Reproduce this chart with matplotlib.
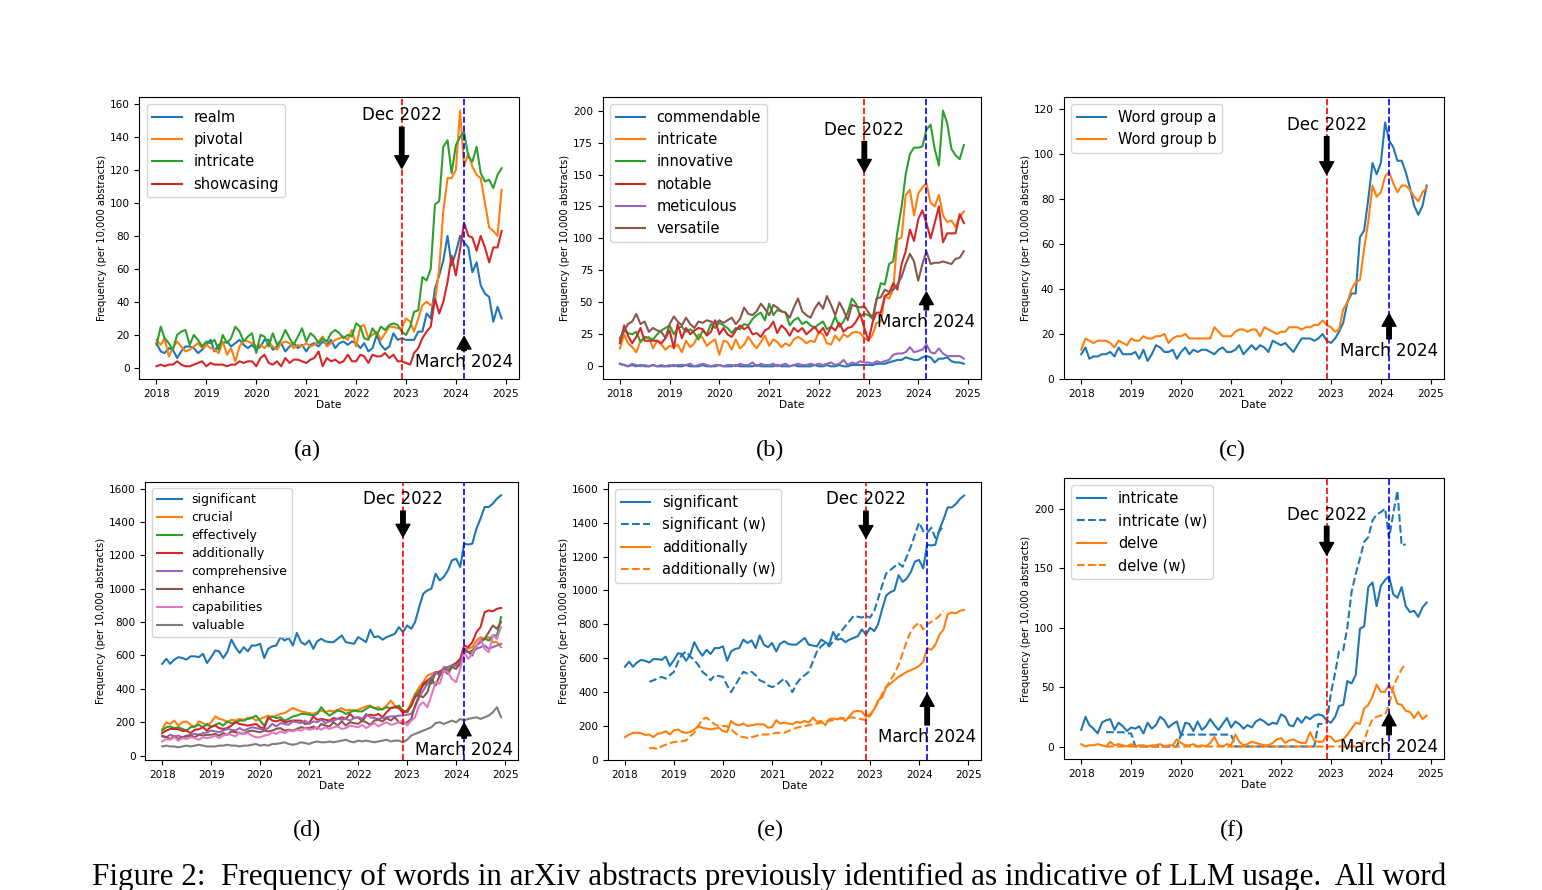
import numpy as np
import matplotlib
matplotlib.use('Agg')
import matplotlib.pyplot as plt
import matplotlib.dates as mdates

# monthly values, Jan 2018 .. Dec 2024 (per 10,000 abstracts)
months = np.arange('2018-01', '2025-01', dtype='datetime64[M]')
months_w = months[6:79]   # (w) series only run Jul 2018 .. Jul 2024

# (a)
realm = [
    15, 10, 9, 12, 11, 6, 10, 13, 13, 12, 9, 11,
    14, 17, 10, 14, 15, 16, 13, 15, 17, 14, 12, 14,
    11, 13, 17, 17, 11, 13, 15, 10, 13, 15, 12, 14,
    10, 14, 15, 13, 16, 14, 17, 12, 15, 16, 14, 16,
    15, 12, 15, 10, 12, 20, 14, 11, 13, 21, 17, 18,
    17, 17, 17, 22, 22, 33, 30, 48, 56, 65, 80, 62,
    70, 80, 76, 73, 58, 64, 50, 45, 43, 28, 37, 30,
]
pivotal = [
    17, 14, 18, 7, 12, 16, 13, 10, 11, 13, 15, 12,
    14, 12, 11, 9, 16, 8, 12, 4, 13, 17, 16, 15,
    13, 14, 12, 15, 13, 11, 15, 16, 15, 12, 14, 13,
    15, 13, 14, 16, 19, 13, 15, 17, 18, 19, 17, 23,
    13, 25, 26, 18, 20, 22, 17, 21, 25, 25, 24, 24,
    30, 28, 22, 30, 38, 40, 38, 40, 60, 95, 115, 115,
    120, 156, 122, 130, 122, 117, 115, 100, 85, 83, 80, 108,
]
intricate = [
    14, 25, 18, 15, 11, 20, 22, 23, 14, 20, 17, 13,
    16, 15, 17, 11, 20, 15, 18, 25, 22, 16, 19, 21,
    9, 20, 19, 13, 21, 14, 17, 23, 18, 14, 19, 24,
    16, 21, 19, 15, 18, 16, 21, 23, 21, 18, 20, 19,
    27, 25, 18, 17, 24, 20, 25, 23, 26, 27, 26, 22,
    20, 25, 34, 35, 55, 53, 60, 99, 101, 134, 138, 118,
    135, 140, 143, 128, 125, 134, 118, 113, 114, 109, 117, 121,
]
showcasing = [
    1, 2, 1, 2, 2, 4, 2, 1, 1, 2, 3, 4,
    1, 3, 2, 2, 2, 1, 2, 2, 4, 3, 4, 4,
    1, 6, 8, 3, 2, 4, 1, 6, 3, 5, 5, 4,
    3, 5, 6, 10, 1, 6, 4, 5, 3, 4, 8, 4,
    4, 8, 7, 3, 8, 7, 7, 9, 6, 8, 4, 4,
    3, 2, 9, 12, 18, 22, 25, 42, 33, 40, 52, 68,
    56, 72, 88, 80, 79, 71, 80, 73, 64, 73, 73, 83,
]

# (b)
commendable = [
    2, 1, 0, 1, 0, 1, 0, 0, 1, 0, 0, 0,
    0, 1, 0, 0, 1, 0, 0, 0, 1, 0, 0, 0,
    1, 0, 0, 0, 1, 0, 0, 0, 0, 1, 0, 0,
    0, 0, 1, 0, 0, 0, 1, 0, 0, 0, 0, 1,
    0, 0, 1, 0, 0, 1, 0, 0, 1, 1, 1, 1,
    1, 1, 2, 2, 2, 3, 4, 5, 5, 7, 6, 5,
    5, 7, 8, 7, 3, 6, 6, 7, 4, 3, 3, 2,
]
innovative = [
    20, 28, 26, 25, 27, 19, 23, 22, 21, 25, 28, 30,
    32, 25, 30, 31, 27, 29, 26, 21, 28, 25, 33, 30,
    34, 32, 30, 26, 30, 29, 33, 32, 37, 40, 42, 36,
    49, 40, 44, 43, 42, 32, 36, 38, 33, 35, 32, 30,
    33, 35, 29, 31, 39, 31, 35, 42, 53, 49, 39, 41,
    40, 37, 52, 65, 64, 80, 82, 105, 125, 150, 166, 171,
    171, 172, 185, 189, 170, 157, 200, 190, 170, 165, 162, 173,
]
notable = [
    18, 32, 24, 18, 23, 30, 20, 20, 20, 20, 18, 22,
    28, 14, 33, 22, 30, 25, 28, 30, 29, 24, 27, 36,
    25, 30, 25, 23, 28, 32, 29, 31, 25, 26, 23, 28,
    30, 35, 26, 32, 29, 24, 30, 27, 30, 25, 28, 31,
    26, 30, 24, 31, 28, 34, 27, 30, 31, 35, 41, 30,
    20, 35, 42, 42, 55, 57, 65, 60, 80, 90, 107, 98,
    115, 122, 112, 100, 112, 125, 97, 104, 104, 104, 119, 112,
]
meticulous = [
    2, 1, 0, 2, 1, 0, 1, 0, 1, 0, 1, 0,
    1, 0, 1, 1, 1, 2, 0, 1, 2, 1, 0, 1,
    1, 0, 1, 1, 0, 2, 1, 1, 3, 0, 2, 1,
    1, 2, 0, 1, 2, 0, 1, 2, 1, 1, 2, 1,
    2, 1, 2, 3, 1, 2, 5, 1, 3, 2, 4, 3,
    3, 2, 4, 3, 4, 5, 9, 10, 10, 11, 15, 11,
    12, 13, 17, 11, 10, 14, 10, 8, 8, 8, 8, 6,
]
versatile = [
    22, 28, 33, 35, 41, 33, 35, 27, 30, 28, 27, 22,
    33, 39, 35, 32, 38, 33, 30, 35, 34, 36, 35, 33,
    36, 34, 36, 38, 33, 37, 46, 41, 40, 43, 49, 45,
    40, 48, 46, 43, 42, 38, 46, 53, 43, 40, 38, 45,
    50, 45, 55, 48, 40, 50, 44, 36, 48, 47, 46, 47,
    42, 38, 53, 54, 60, 58, 60, 64, 70, 80, 88, 82,
    67, 80, 90, 80, 81, 81, 82, 81, 80, 84, 85, 90,
]

# (c)
group_a = [
    11, 14, 9, 10, 10, 11, 11, 12, 10, 14, 11, 11,
    11, 12, 9, 13, 8, 11, 15, 14, 12, 12, 13, 9,
    12, 14, 11, 13, 12, 13, 13, 12, 11, 13, 14, 12,
    12, 13, 15, 11, 13, 15, 13, 15, 14, 12, 17, 16,
    15, 16, 14, 12, 15, 18, 18, 18, 17, 18, 20, 17,
    16, 18, 21, 25, 34, 38, 38, 63, 66, 80, 96, 91,
    96, 114, 106, 103, 97, 97, 92, 85, 77, 73, 77, 86,
]
group_b = [
    13, 18, 17, 16, 17, 17, 17, 16, 14, 17, 16, 15,
    18, 17, 17, 19, 18, 18, 19, 19, 20, 16, 18, 19,
    19, 20, 18, 18, 18, 18, 18, 18, 23, 21, 19, 19,
    19, 21, 22, 22, 21, 22, 22, 19, 23, 22, 21, 20,
    21, 21, 23, 23, 23, 22, 23, 23, 24, 24, 26, 24,
    23, 21, 22, 31, 34, 40, 43, 44, 58, 70, 86, 81,
    83, 90, 92, 87, 83, 86, 86, 84, 81, 79, 83, 85,
]

# (d)
significant = [
    550, 580, 550, 575, 590, 585, 575, 595, 595, 590, 610, 555,
    590, 630, 625, 585, 620, 695, 650, 615, 650, 625, 660, 660,
    670, 585, 640, 655, 660, 710, 690, 705, 660, 735, 680, 665,
    690, 640, 685, 700, 685, 680, 680, 700, 720, 680, 675, 670,
    710, 695, 680, 755, 710, 715, 695, 710, 720, 730, 770, 740,
    780, 760, 800, 890, 970, 990, 1000, 1090, 1050, 1070, 1110, 1170,
    1180, 1130, 1270, 1265, 1270, 1360, 1420, 1490, 1490, 1510, 1540, 1560,
]
crucial = [
    160, 200, 190, 210, 180, 200, 205, 185, 170, 205, 195, 180,
    200, 235, 220, 215, 200, 215, 210, 220, 215, 225, 230, 210,
    220, 230, 240, 230, 240, 250, 255, 270, 285, 275, 265, 260,
    255, 250, 260, 270, 260, 270, 265, 275, 285, 270, 275, 270,
    275, 285, 295, 300, 285, 290, 275, 300, 330, 300, 290, 270,
    260, 320, 370, 410, 440, 480, 490, 500, 500, 520, 530, 540,
    540, 570, 640, 640, 650, 690, 710, 700, 710, 680, 680, 650,
]
effectively = [
    150, 170, 175, 165, 170, 160, 150, 170, 175, 185, 170, 190,
    170, 185, 195, 180, 205, 195, 200, 210, 210, 220, 225, 240,
    210, 180, 220, 235, 225, 230, 210, 220, 235, 240, 250, 250,
    245, 240, 250, 290, 260, 240, 255, 270, 265, 250, 260, 270,
    265, 265, 280, 295, 285, 275, 280, 290, 285, 290, 300, 270,
    260, 300, 360, 390, 420, 440, 430, 500, 490, 520, 510, 540,
    540, 560, 630, 620, 630, 660, 690, 700, 690, 720, 720, 830,
]
additionally = [
    135, 150, 160, 160, 158, 148, 150, 135, 155, 158, 170, 150,
    175, 180, 165, 160, 165, 180, 200, 190, 185, 180, 185, 190,
    170, 165, 230, 210, 205, 215, 200, 205, 210, 210, 210, 190,
    195, 235, 215, 220, 215, 210, 225, 220, 230, 220, 250, 225,
    230, 205, 240, 245, 240, 250, 230, 260, 285, 290, 285, 255,
    270, 300, 350, 370, 430, 450, 470, 490, 505, 520, 530, 540,
    555, 580, 660, 650, 680, 740, 770, 860, 870, 865, 880, 885,
]
comprehensive = [
    115, 110, 125, 115, 120, 110, 120, 125, 130, 125, 135, 140,
    150, 145, 140, 150, 160, 155, 150, 165, 150, 160, 170, 165,
    160, 155, 165, 190, 175, 195, 190, 185, 205, 200, 195, 210,
    190, 205, 200, 215, 195, 205, 210, 220, 215, 220, 210, 225,
    230, 220, 250, 230, 225, 220, 225, 230, 235, 235, 240, 240,
    245, 250, 290, 350, 390, 430, 470, 500, 480, 530, 530, 540,
    540, 550, 630, 620, 620, 640, 650, 660, 640, 650, 660, 670,
]
enhance = [
    120, 110, 100, 115, 100, 110, 115, 120, 110, 125, 120, 125,
    125, 130, 120, 135, 125, 145, 140, 135, 130, 145, 150, 145,
    140, 150, 145, 150, 160, 165, 150, 155, 150, 160, 170, 165,
    165, 175, 160, 190, 180, 175, 200, 180, 205, 180, 200, 195,
    190, 210, 200, 185, 210, 215, 205, 225, 210, 230, 200, 190,
    200, 220, 300, 360, 350, 380, 460, 420, 480, 510, 490, 530,
    520, 550, 640, 620, 600, 660, 680, 700, 740, 780, 760, 800,
]
capabilities = [
    85, 100, 95, 110, 90, 105, 100, 110, 105, 95, 110, 105,
    110, 120, 105, 120, 130, 125, 115, 140, 130, 135, 120, 110,
    110, 120, 125, 140, 130, 145, 135, 150, 145, 155, 150, 165,
    155, 160, 170, 155, 170, 160, 170, 175, 160, 165, 180, 175,
    170, 185, 165, 180, 195, 175, 190, 200, 185, 190, 200, 210,
    180, 210, 230, 300, 320, 290, 360, 440, 430, 510, 500, 460,
    440, 520, 620, 580, 610, 660, 700, 640, 620, 720, 700, 770,
]
valuable = [
    55, 60, 55, 55, 50, 55, 60, 55, 60, 65, 60, 55,
    55, 55, 60, 60, 65, 60, 60, 55, 60, 60, 65, 70,
    60, 65, 60, 70, 70, 75, 80, 70, 65, 70, 80, 75,
    70, 80, 85, 80, 80, 85, 80, 85, 90, 95, 85, 80,
    90, 85, 90, 85, 80, 85, 90, 95, 85, 90, 90, 80,
    95, 120, 130, 140, 150, 160, 170, 195, 200, 190, 200, 210,
    200, 220, 210, 220, 225, 230, 220, 230, 240, 260, 290, 230,
]

# (e) weighted versions, Jul 2018 .. Jul 2024
significant_w = [
    461, 470, 480, 490, 480, 500, 520, 580, 620, 640, 610, 590,
    560, 520, 500, 470, 500, 495, 490, 440, 400, 440, 480, 520,
    510, 520, 500, 470, 460, 440, 430, 440, 460, 480, 450, 400,
    450, 480, 500, 520, 580, 640, 670, 690, 670, 700, 730, 760, 790, 820,
    850, 845, 840, 850, 840, 880, 950, 1030, 1100, 1120, 1140, 1160,
    1140, 1200, 1260, 1330, 1400, 1350, 1340, 1370, 1310, 1350, 1380,
]
additionally_w = [
    70, 70, 65, 80, 90, 100, 105, 110, 110, 115, 140, 160,
    200, 240, 250, 230, 210, 200, 200, 200, 180, 160, 140, 135,
    130, 135, 140, 150, 150, 150, 155, 160, 160, 160, 170, 180,
    190, 195, 200, 205, 210, 215, 220, 225, 230, 235, 240, 245, 250, 250,
    250, 245, 240, 235, 260, 300, 340, 390, 430, 470, 510, 560,
    630, 700, 760, 790, 810, 770, 800, 815, 830, 850, 880,
]

# (f)
delve = [
    2, 0, 1, 1, 2, 1, 0, 4, 1, 2, 1, 0,
    2, 0, 1, 1, 0, 1, 1, 2, 0, 1, 1, 6,
    3, 1, 1, 2, 0, 1, 0, 3, 8, 1, 0, 2,
    1, 10, 4, 1, 2, 4, 3, 2, 1, 1, 3, 6,
    7, 3, 5, 6, 4, 3, 3, 12, 5, 4, 4, 9,
    8, 4, 5, 6, 10, 15, 20, 19, 32, 35, 42, 52,
    46, 46, 52, 46, 36, 35, 30, 29, 24, 29, 23, 26,
]
intricate_w = [
    12, 12, 12, 12, 12, 11, 11,
    0, 0, 0, 0, 0, 0, 0, 0, 0, 0, 0,
    10, 10, 10, 10, 10, 10, 10, 10, 10, 10, 10, 10, 10,
    0, 0, 0, 0, 0, 0, 0, 0, 0, 0, 0, 0, 0, 0, 0, 0, 0, 0, 0, 0,
    19, 19, 20,
    45, 62, 80, 81, 100, 130, 145, 158, 172, 176, 190, 195,
    197, 200, 175, 196, 215, 169, 170,
]
delve_w = [
    0, 0, 0, 0, 0, 0, 0, 0, 0, 0, 0, 0,
    0, 0, 0, 0, 0, 0, 0, 0, 0, 0, 0, 0,
    0, 0, 0, 0, 0, 0, 0, 0, 0, 0, 0, 0,
    0, 0, 0, 0, 0, 0, 0, 0, 0, 0, 0, 0,
    0, 0, 0, 0, 0, 0, 0, 0, 0, 0, 0, 0,
    0, 0,
    5, 15, 23, 25, 26, 27, 35, 50, 58, 65, 70,
]

dec_2022 = mdates.date2num(np.datetime64('2022-12-01'))
march_2024 = mdates.date2num(np.datetime64('2024-03-01'))

SERIF = ['Liberation Serif', 'DejaVu Serif']


def mark_events(ax, dec_text, dec_tip, mar_text, mar_tip):
    ax.axvline(dec_2022, color='red', linestyle='--', linewidth=1.2)
    ax.axvline(march_2024, color='blue', linestyle='--', linewidth=1.2)
    arrow = dict(facecolor='black', edgecolor='black', width=3.2, headwidth=10, headlength=9)
    ax.annotate('Dec 2022', xy=(dec_2022, dec_tip), xytext=(dec_2022, dec_text),
                ha='center', va='center', fontsize=12, arrowprops=arrow)
    ax.annotate('March 2024', xy=(march_2024, mar_tip), xytext=(march_2024, mar_text),
                ha='center', va='center', fontsize=12, arrowprops=arrow)


def style_axes(ax, ylim, yticks, legend_size=10.5, spacing=0.5):
    ax.set_ylim(*ylim)
    ax.set_yticks(yticks)
    ax.xaxis.set_major_locator(mdates.YearLocator())
    ax.xaxis.set_major_formatter(mdates.DateFormatter('%Y'))
    ax.tick_params(labelsize=7.6)
    ax.set_xlabel('Date', fontsize=7.6, labelpad=1)
    ax.set_ylabel('Frequency (per 10,000 abstracts)', fontsize=7.2, labelpad=2)
    ax.legend(loc='upper left', fontsize=legend_size, labelspacing=spacing)


fig = plt.figure(figsize=(15.42, 8.9), dpi=100)

# (a)
ax1 = fig.add_axes([0.0903, 0.5742, 0.2462, 0.3172])
ax1.plot(months, realm, label='realm')
ax1.plot(months, pivotal, label='pivotal')
ax1.plot(months, intricate, label='intricate')
ax1.plot(months, showcasing, label='showcasing')
style_axes(ax1, (-6.7, 164.4), range(0, 161, 20))
mark_events(ax1, 153, 121, 3.4, 19)

# (b)
ax2 = fig.add_axes([0.3909, 0.5742, 0.2453, 0.3172])
ax2.plot(months, commendable, label='commendable')
ax2.plot(months, intricate, label='intricate')
ax2.plot(months, innovative, label='innovative')
ax2.plot(months, notable, label='notable')
ax2.plot(months, meticulous, label='meticulous')
ax2.plot(months, versatile, label='versatile')
style_axes(ax2, (-9.9, 210.9), range(0, 201, 25))
mark_events(ax2, 185, 152, 35, 58)

# (c)
ax3 = fig.add_axes([0.690, 0.5742, 0.2464, 0.3172])
ax3.plot(months, group_a, label='Word group a')
ax3.plot(months, group_b, label='Word group b')
style_axes(ax3, (0, 125.5), range(0, 121, 20))
mark_events(ax3, 113, 91, 12.6, 29)

# (d)
ax4 = fig.add_axes([0.0942, 0.1461, 0.2417, 0.3124])
ax4.plot(months, significant, label='significant')
ax4.plot(months, crucial, label='crucial')
ax4.plot(months, effectively, label='effectively')
ax4.plot(months, additionally, label='additionally')
ax4.plot(months, comprehensive, label='comprehensive')
ax4.plot(months, enhance, label='enhance')
ax4.plot(months, capabilities, label='capabilities')
ax4.plot(months, valuable, label='valuable')
style_axes(ax4, (-26, 1640), range(0, 1601, 200), legend_size=9, spacing=0.4)
mark_events(ax4, 1536, 1311, 34, 194)

# (e)
ax5 = fig.add_axes([0.3943, 0.1461, 0.2419, 0.3124])
ax5.plot(months, significant, color='C0', label='significant')
ax5.plot(months_w, significant_w, color='C0', linestyle='--', label='significant (w)')
ax5.plot(months, additionally, color='C1', label='additionally')
ax5.plot(months_w, additionally_w, color='C1', linestyle='--', label='additionally (w)')
style_axes(ax5, (0, 1640), range(0, 1601, 200))
mark_events(ax5, 1537, 1309, 137, 390)

# (f)
ax6 = fig.add_axes([0.690, 0.1472, 0.2464, 0.3157])
ax6.plot(months, intricate, color='C0', label='intricate')
ax6.plot(months_w, intricate_w, color='C0', linestyle='--', label='intricate (w)')
ax6.plot(months, delve, color='C1', label='delve')
ax6.plot(months_w, delve_w, color='C1', linestyle='--', label='delve (w)')
style_axes(ax6, (-10.5, 225.7), range(0, 201, 50))
mark_events(ax6, 195, 161, 0, 28)

# sub-figure labels and caption
for x, y, lab in [(307, 450, '(a)'), (770, 450, '(b)'), (1232, 450, '(c)'),
                  (307, 830, '(d)'), (770, 830, '(e)'), (1232, 830, '(f)')]:
    fig.text(x / 1542, 1 - y / 890, lab, ha='center', va='center', fontsize=17.5, family=SERIF)

fig.text(92 / 1542, 5 / 890,
         'Figure 2:  Frequency of words in arXiv abstracts previously identified as indicative of LLM usage.  All word',
         ha='left', va='baseline', fontsize=22.4, family=SERIF)

fig.savefig('out.png', dpi=100)
